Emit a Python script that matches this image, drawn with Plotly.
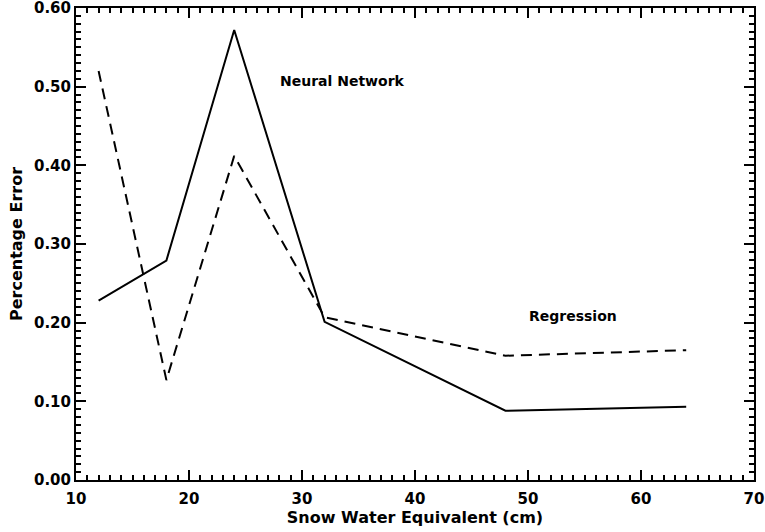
import plotly.graph_objects as go

swe = [12, 18, 24, 32, 48, 64]
neural_network = [0.228, 0.279, 0.572, 0.201, 0.088, 0.093]
regression = [0.520, 0.127, 0.412, 0.207, 0.158, 0.165]

x_ticks = [10, 20, 30, 40, 50, 60, 70]
y_ticks = [0.0, 0.1, 0.2, 0.3, 0.4, 0.5, 0.6]
y_tick_labels = ["0.00", "0.10", "0.20", "0.30", "0.40", "0.50", "0.60"]

FONT = "DejaVu Sans"

fig = go.Figure()
fig.add_trace(go.Scatter(x=swe, y=neural_network, mode="lines", name="Neural Network",
                         line=dict(color="black", width=2)))
fig.add_trace(go.Scatter(x=swe, y=regression, mode="lines", name="Regression",
                         line=dict(color="black", width=2, dash="11px,7px")))

fig.add_annotation(x=33.6, y=0.507, text="Neural Network", showarrow=False,
                   font=dict(family=FONT, size=14, color="black", weight="bold"))
fig.add_annotation(x=54.0, y=0.208, text="Regression", showarrow=False,
                   font=dict(family=FONT, size=14, color="black", weight="bold"))

axis_common = dict(
    showgrid=False, zeroline=False, showline=True, linecolor="black", linewidth=2,
    mirror="allticks", ticks="inside", ticklen=10, tickwidth=2, tickcolor="black",
    tickfont=dict(family=FONT, size=15, color="black", weight="bold"),
    automargin=False, ticklabeloverflow="allow",
)

fig.update_layout(
    width=765, height=532,
    margin=dict(l=76, r=11, t=8, b=52),
    paper_bgcolor="white", plot_bgcolor="white",
    showlegend=False,
    xaxis=dict(range=[10, 70], tickvals=x_ticks, **axis_common, ticklabelstandoff=4,
               minor=dict(dtick=1, ticklen=5, tickwidth=1.5, tickcolor="black", ticks="inside"),
               title=dict(text="Snow Water Equivalent (cm)", standoff=5,
                          font=dict(family=FONT, size=16, color="black", weight="bold"))),
    yaxis=dict(range=[0, 0.6], tickvals=y_ticks, ticktext=y_tick_labels, **axis_common,
               minor=dict(dtick=0.01, ticklen=5, tickwidth=1.5, tickcolor="black", ticks="inside"),
               title=dict(text="Percentage Error", standoff=7,
                          font=dict(family=FONT, size=16, color="black", weight="bold"))),
)

fig.write_html("out.html", config={"displayModeBar": False},
               post_script="document.body.style.margin='0';document.body.style.overflow='hidden';")
